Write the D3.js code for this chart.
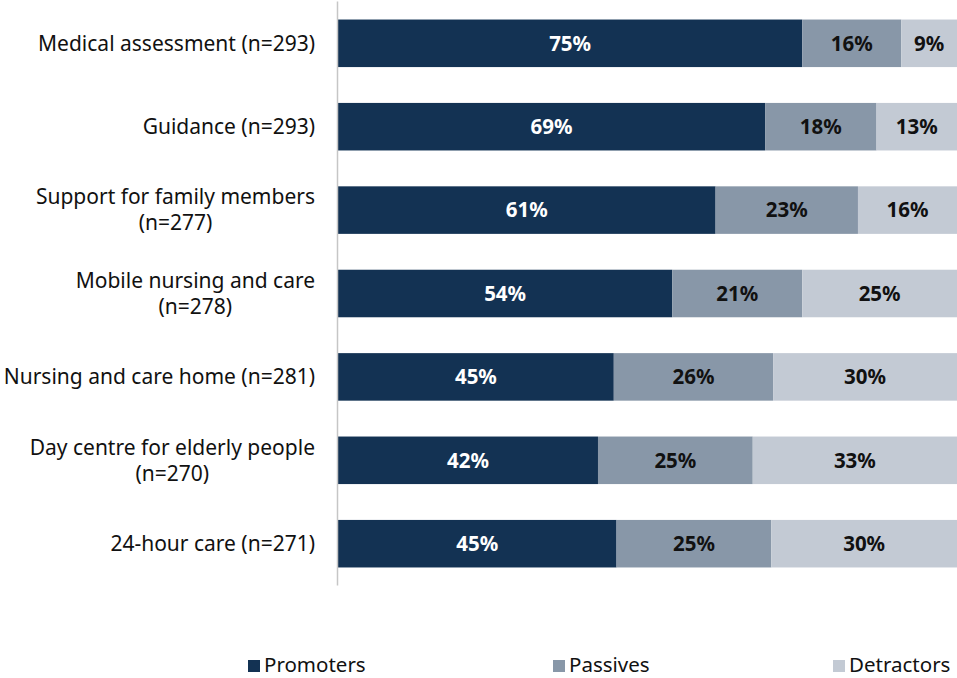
<!DOCTYPE html>
<html>
<head>
<meta charset="utf-8">
<script src="https://cdn.jsdelivr.net/npm/d3@7"></script>
<style>
  body { margin: 0; background: #fff; }
  svg { display: block; }
</style>
</head>
<body>
<svg id="chart" width="957" height="678"></svg>
<script>
// Service categories (two-line labels split with "\n")
const categories = [
  "Medical assessment (n=293)",
  "Guidance (n=293)",
  "Support for family members\n(n=277)",
  "Mobile nursing and care\n(n=278)",
  "Nursing and care home (n=281)",
  "Day centre for elderly people\n(n=270)",
  "24-hour care (n=271)"
];
const seriesNames = ["Promoters", "Passives", "Detractors"];
const promoters  = [75, 69, 61, 54, 45, 42, 45];
const passives   = [16, 18, 23, 21, 26, 25, 25];
const detractors = [9, 13, 16, 25, 30, 33, 30];
const colors = ["#133253", "#8897a8", "#c3cad4"];
const labelColors = ["#ffffff", "#111111", "#111111"];

const rows = categories.map((c, i) => ({
  cat: c, Promoters: promoters[i], Passives: passives[i], Detractors: detractors[i]
}));

const svg = d3.select("#chart");
const left = 338, right = 957;

const x = d3.scaleLinear().domain([0, 1]).range([left, right]);
const y = d3.scaleBand().domain(categories).range([1.6, 585.4])
  .paddingInner(0.43).paddingOuter(0.215);

// each row stacked to 100%
const stacked = d3.stack().keys(seriesNames).offset(d3.stackOffsetExpand)(rows);

const font = "'Noto Sans', 'Open Sans', sans-serif";

stacked.forEach((layer, k) => {
  const g = svg.append("g");
  g.selectAll("rect").data(layer).join("rect")
    .attr("x", d => x(d[0]))
    .attr("y", d => y(d.data.cat))
    .attr("width", d => x(d[1]) - x(d[0]))
    .attr("height", y.bandwidth())
    .attr("fill", colors[k]);
  g.selectAll("text").data(layer).join("text")
    .attr("x", d => (x(d[0]) + x(d[1])) / 2)
    .attr("y", d => y(d.data.cat) + y.bandwidth() / 2)
    .attr("dy", "0.36em")
    .attr("text-anchor", "middle")
    .attr("font-family", font)
    .attr("font-weight", "bold")
    .attr("font-size", 20.5)
    .attr("fill", labelColors[k])
    .text(d => d.data[layer.key] + "%");
});

// vertical category axis line
svg.append("line")
  .attr("x1", 337.5).attr("x2", 337.5)
  .attr("y1", y.range()[0]).attr("y2", y.range()[1])
  .attr("stroke", "#c6c6c6").attr("stroke-width", 1.5);

// category labels
const catG = svg.append("g");
categories.forEach(c => {
  const lines = c.split("\n");
  const cy = y(c) + y.bandwidth() / 2;
  const t = catG.append("text")
    .attr("text-anchor", "middle")
    .attr("font-family", font)
    .attr("font-size", 21)
    .attr("fill", "#111");
  const lh = 26;
  lines.forEach((ln, i) => {
    t.append("tspan")
      .attr("x", 0)
      .attr("y", cy + (i - (lines.length - 1) / 2) * lh)
      .attr("dy", "0.35em")
      .text(ln);
  });
  // right-align the block, center lines relative to the widest one
  const bb = t.node().getBBox();
  t.attr("transform", `translate(${315 - bb.width / 2},0)`);
});

// legend
const legendX = [248, 553, 833];
const legend = svg.append("g");
seriesNames.forEach((s, i) => {
  legend.append("rect")
    .attr("x", legendX[i]).attr("y", 660)
    .attr("width", 12).attr("height", 12)
    .attr("fill", colors[i]);
  legend.append("text")
    .attr("x", legendX[i] + 16).attr("y", 672)
    .attr("font-family", font)
    .attr("font-size", 20.5)
    .attr("fill", "#111")
    .text(s);
});
</script>
</body>
</html>
